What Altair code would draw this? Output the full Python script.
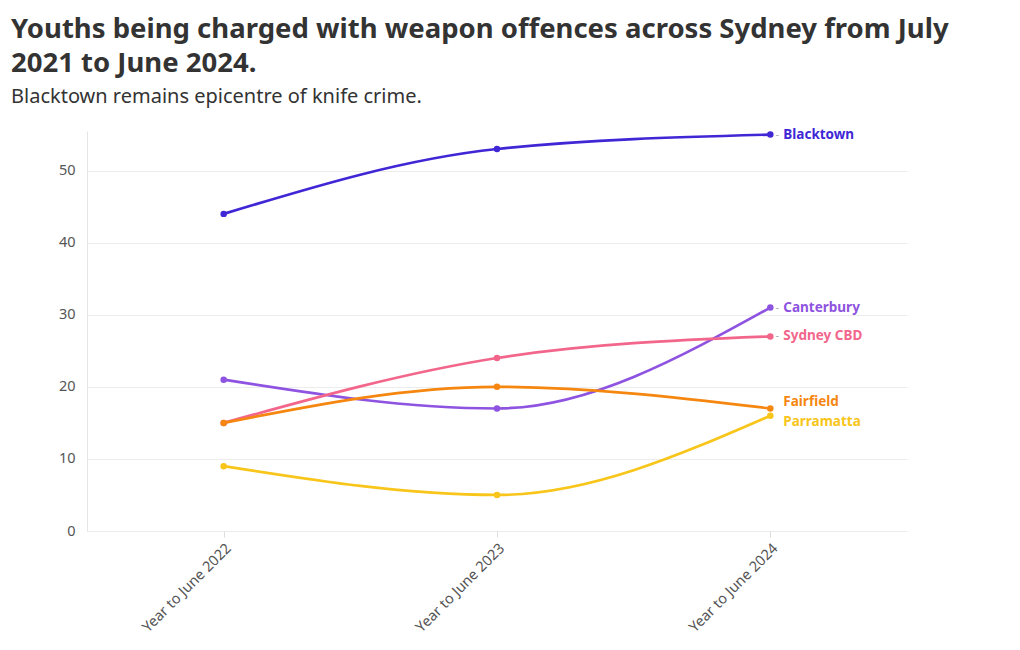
import altair as alt
import pandas as pd

periods = ["Year to June 2022", "Year to June 2023", "Year to June 2024"]
areas = ["Blacktown", "Canterbury", "Sydney CBD", "Fairfield", "Parramatta"]
blacktown = [44, 53, 55]
canterbury = [21, 17, 31]
sydney_cbd = [15, 24, 27]
fairfield = [15, 20, 17]
parramatta = [9, 5, 16]
colors = ["#4027d6", "#8e53e0", "#f2668b", "#f5860f", "#f8c51a"]

series = [blacktown, canterbury, sydney_cbd, fairfield, parramatta]
rows = []
for a, vals in zip(areas, series):
    for p, v in zip(periods, vals):
        rows.append({"area": a, "period": p, "value": v})
df = pd.DataFrame(rows)

FONT = "Noto Sans"
color = alt.Color("area:N", scale=alt.Scale(domain=areas, range=colors), legend=None)
x = alt.X("period:N", sort=periods, title=None,
          scale=alt.Scale(type="point", padding=0.5),
          axis=alt.Axis(labelAngle=-45, labelFontSize=14.5, labelColor="#555",
                        labelFont=FONT, domain=False, ticks=True, tickColor="#ddd",
                        tickSize=6, grid=False, labelPadding=4))
y = alt.Y("value:Q", title=None,
          scale=alt.Scale(domain=[0, 55.5], nice=False),
          axis=alt.Axis(values=[0, 10, 20, 30, 40, 50], labelFontSize=14.5, labelColor="#555",
                        labelFont=FONT, domain=True, domainColor="#e6e6e6", ticks=False,
                        gridColor="#ececec", labelPadding=12, minExtent=70, maxExtent=70))

base = alt.Chart(df)
lines = base.mark_line(interpolate="monotone", strokeWidth=2.7).encode(x=x, y=y, color=color)
pts = base.mark_point(filled=True, size=42, opacity=1).encode(x=x, y=y, color=color)

last = base.transform_filter(alt.datum.period == periods[-1])
main3 = alt.FieldOneOfPredicate(field="area", oneOf=["Blacktown", "Canterbury", "Sydney CBD"])
lab_main = last.transform_filter(main3).mark_text(
    align="left", baseline="middle", dx=13, fontSize=13.5, fontWeight="bold", font=FONT).encode(
    x=x, y=y, color=color, text="area:N")
dash = last.transform_filter(main3).mark_text(
    align="center", baseline="middle", dx=7, fontSize=11, color="#aaa", font=FONT, text="-").encode(
    x=x, y=y)
lab_up = last.transform_filter(alt.datum.area == "Fairfield").mark_text(
    align="left", baseline="middle", dx=13, dy=-6, fontSize=13.5, fontWeight="bold", font=FONT).encode(
    x=x, y=y, color=color, text="area:N")
lab_down = last.transform_filter(alt.datum.area == "Parramatta").mark_text(
    align="left", baseline="middle", dx=13, dy=6, fontSize=13.5, fontWeight="bold", font=FONT).encode(
    x=x, y=y, color=color, text="area:N")

chart = alt.layer(lines, pts, dash, lab_main, lab_up, lab_down).properties(
    width=820, height=400,
    padding={"left": 3, "top": 8, "right": 5, "bottom": 5},
    title=alt.TitleParams(
        text=["Youths being charged with weapon offences across Sydney from July",
              "2021 to June 2024."],
        subtitle="Blacktown remains epicentre of knife crime.",
        anchor="start", frame="group", dx=-76, offset=21,
        font=FONT, fontSize=27.5, fontWeight="bold", color="#333", lineHeight=34,
        subtitleFont=FONT, subtitleFontSize=20, subtitleColor="#333", subtitlePadding=9,
    ),
).configure(background="white").configure_view(stroke=None)

chart.save("out.html", embed_options={"renderer": "svg", "actions": False})
